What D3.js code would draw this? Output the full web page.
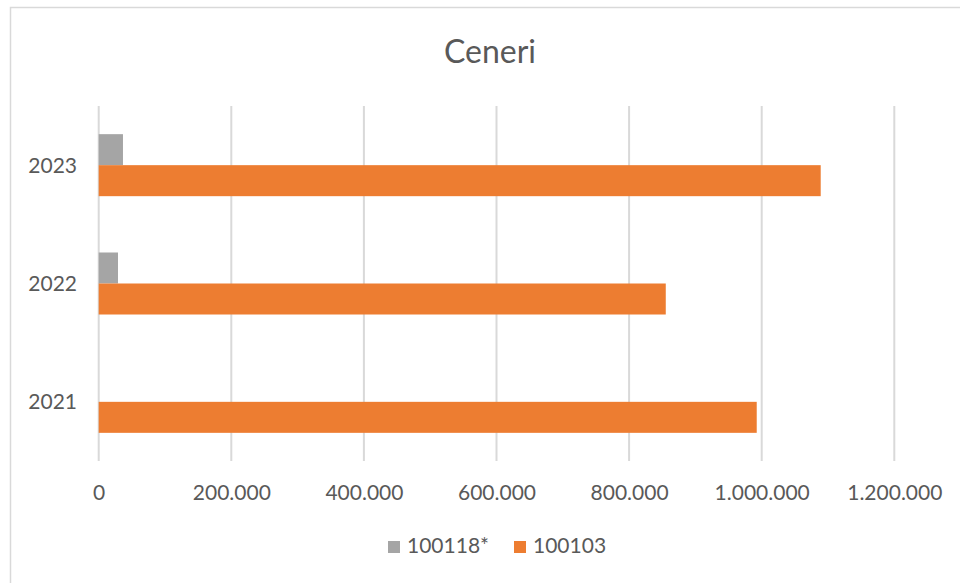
<!DOCTYPE html>
<html>
<head>
<meta charset="utf-8">
<script src="https://cdn.jsdelivr.net/npm/d3@7"></script>
<style>
  html, body { margin: 0; padding: 0; background: #fff; }
  svg { display: block; }
  text { font-family: Lato, "Open Sans", sans-serif; fill: #595959; }
</style>
</head>
<body>
<svg id="chart" width="960" height="583"></svg>
<script>
const title = "Ceneri";
const categories = ["2021", "2022", "2023"];
const seriesNames = ["100118*", "100103"];
const series100118 = [0, 29100, 36600];
const series100103 = [992500, 855300, 1089000];
const seriesColors = ["#A5A5A5", "#ED7D31"];
const tickValues = [0, 200000, 400000, 600000, 800000, 1000000, 1200000];
const tickLabels = ["0", "200.000", "400.000", "600.000", "800.000", "1.000.000", "1.200.000"];

const svg = d3.select("#chart");
const W = 960, H = 583;
const plot = { left: 98.7, right: 894.3, top: 106, bottom: 461 };

// chart area border
svg.append("rect")
  .attr("x", 10.5).attr("y", 7.5)
  .attr("width", 980).attr("height", 620)
  .attr("fill", "#fff").attr("stroke", "#D9D9D9").attr("stroke-width", 1.5);

// title
svg.append("text")
  .attr("x", 490).attr("y", 63)
  .attr("text-anchor", "middle")
  .style("font-size", "32px")
  .text(title);

const x = d3.scaleLinear().domain([0, 1200000]).range([plot.left, plot.right]);
const y = d3.scaleBand()
  .domain(categories.slice().reverse())
  .range([plot.top, plot.bottom])
  .paddingInner(0.476)
  .paddingOuter(0.238);
const inner = d3.scaleBand().domain(seriesNames).range([0, y.bandwidth()]);

// gridlines
svg.append("g").selectAll("line")
  .data(tickValues).join("line")
  .attr("x1", d => x(d)).attr("x2", d => x(d))
  .attr("y1", plot.top).attr("y2", plot.bottom)
  .attr("stroke", "#D9D9D9").attr("stroke-width", 2);

// x axis labels
const xAxis = d3.axisBottom(x).tickValues(tickValues)
  .tickFormat((d, i) => tickLabels[i]).tickSize(0).tickPadding(0);
const gx = svg.append("g").attr("transform", `translate(0,${plot.bottom})`).call(xAxis);
gx.select(".domain").remove();
gx.selectAll("text")
  .attr("y", 39).attr("dy", null)
  .style("font-size", "21px").style("font-family", "Lato, sans-serif")
  .attr("fill", "#595959");

// y axis labels
const yAxis = d3.axisLeft(y).tickSize(0).tickPadding(0);
const gy = svg.append("g").attr("transform", `translate(77,0)`).call(yAxis);
gy.select(".domain").remove();
gy.selectAll("text")
  .attr("x", 0).attr("dy", "0.36em")
  .style("font-size", "21px").style("font-family", "Lato, sans-serif")
  .attr("fill", "#595959");

// bars
const data = categories.map((c, i) => ({
  cat: c,
  vals: [
    { s: seriesNames[0], v: series100118[i], color: seriesColors[0] },
    { s: seriesNames[1], v: series100103[i], color: seriesColors[1] }
  ]
}));

const groups = svg.append("g").selectAll("g")
  .data(data).join("g")
  .attr("transform", d => `translate(0,${y(d.cat)})`);
groups.selectAll("rect")
  .data(d => d.vals.filter(v => v.v > 0)).join("rect")
  .attr("x", x(0))
  .attr("y", d => inner(d.s))
  .attr("width", d => x(d.v) - x(0))
  .attr("height", inner.bandwidth())
  .attr("fill", d => d.color);

// legend
const legendItems = [
  { name: seriesNames[0], color: seriesColors[0], x: 388 },
  { name: seriesNames[1], color: seriesColors[1], x: 514 }
];
const lg = svg.append("g").selectAll("g").data(legendItems).join("g")
  .attr("transform", d => `translate(${d.x},0)`);
lg.append("rect")
  .attr("x", 0).attr("y", 541).attr("width", 12).attr("height", 12)
  .attr("fill", d => d.color);
lg.append("text")
  .attr("x", 19).attr("y", 553)
  .style("font-size", "21px")
  .text(d => d.name);
</script>
</body>
</html>
